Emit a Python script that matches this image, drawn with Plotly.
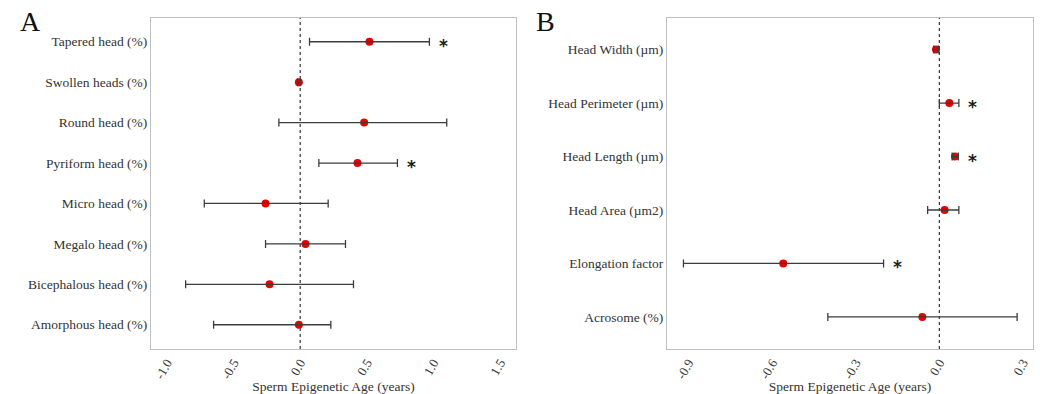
import plotly.graph_objects as go

# Panel A data
a_labels = ["Tapered head (%)", "Swollen heads (%)", "Round head (%)", "Pyriform head (%)",
            "Micro head (%)", "Megalo head (%)", "Bicephalous head (%)", "Amorphous head (%)"]
a_est = [0.52, -0.01, 0.48, 0.43, -0.26, 0.04, -0.23, -0.01]
a_low = [0.07, -0.02, -0.16, 0.14, -0.72, -0.26, -0.86, -0.65]
a_high = [0.97, 0.0, 1.10, 0.73, 0.21, 0.34, 0.40, 0.23]
a_sig = [True, False, False, True, False, False, False, False]
a_ticks = [-1.0, -0.5, 0.0, 0.5, 1.0, 1.5]

# Panel B data
b_labels = ["Head Width (µm)", "Head Perimeter (µm)", "Head Length (µm)", "Head Area (µm2)",
            "Elongation factor", "Acrosome (%)"]
b_est = [-0.012, 0.036, 0.056, 0.019, -0.56, -0.061]
b_low = [-0.020, 0.0, 0.046, -0.042, -0.918, -0.40]
b_high = [-0.003, 0.070, 0.068, 0.070, -0.20, 0.279]
b_sig = [False, True, True, False, True, False]
b_ticks = [-0.9, -0.6, -0.3, 0.0, 0.3]

FONT = "Liberation Serif"
TXT = "#333333"
W, H = 1040, 394

fig = go.Figure()


def add_panel(labels, est, low, high, sig, xaxis, yaxis):
    n = len(labels)
    ypos = list(range(n, 0, -1))
    fig.add_trace(go.Scatter(
        x=est, y=ypos, mode="markers",
        marker=dict(color="#e60000", size=8, line=dict(width=0)),
        xaxis=xaxis, yaxis=yaxis, showlegend=False, hoverinfo="x+y"))
    fig.add_trace(go.Scatter(
        x=est, y=ypos, mode="markers",
        marker=dict(color="rgba(0,0,0,0)", size=1),
        error_x=dict(type="data", symmetric=False,
                     array=[h - e for h, e in zip(high, est)],
                     arrayminus=[e - l for e, l in zip(est, low)],
                     color="#3c3c3c", thickness=1.3, width=4),
        xaxis=xaxis, yaxis=yaxis, showlegend=False, hoverinfo="skip"))
    for y, h, s in zip(ypos, high, sig):
        if s:
            fig.add_annotation(x=h, y=y, text="<b>*</b>", showarrow=False, xshift=14, yshift=-4,
                               font=dict(family="DejaVu Sans", size=17, color="#1a1a1a"),
                               xref=xaxis, yref=yaxis)
    return ypos


ya = add_panel(a_labels, a_est, a_low, a_high, a_sig, "x", "y")
yb = add_panel(b_labels, b_est, b_low, b_high, b_sig, "x2", "y2")

ydom = [1 - 349 / H, 1 - 17.5 / H]
common_x = dict(showgrid=False, zeroline=False, showline=True, mirror=True,
                linecolor="#bfbfbf", linewidth=1, ticks="", tickangle=-60,
                tickfont=dict(family=FONT, size=13, color=TXT),
                title=dict(text="Sperm Epigenetic Age (years)", standoff=4,
                           font=dict(family=FONT, size=13.5, color=TXT)))
common_y = dict(showgrid=False, zeroline=False, showline=True, mirror=True,
                linecolor="#bfbfbf", linewidth=1, ticks="", ticklen=0,
                tickfont=dict(family=FONT, size=13.5, color=TXT), domain=ydom)

fig.update_layout(
    width=W, height=H, margin=dict(l=0, r=0, t=0, b=0),
    paper_bgcolor="white", plot_bgcolor="white",
    xaxis=dict(common_x, domain=[151 / W, 516 / W], range=[-1.12, 1.62],
               tickvals=a_ticks, ticktext=[f"{v:.1f}" for v in a_ticks]),
    yaxis=dict(common_y, anchor="x", range=[0.4, len(a_labels) + 0.6],
               tickvals=ya, ticktext=a_labels),
    xaxis2=dict(common_x, domain=[667 / W, 1033 / W], range=[-0.977, 0.336],
                tickvals=b_ticks, ticktext=[f"{v:.1f}" for v in b_ticks], anchor="y2"),
    yaxis2=dict(common_y, anchor="x2", range=[0.4, len(b_labels) + 0.6],
                tickvals=yb, ticktext=b_labels),
)

# dashed zero lines
for xr, yr in [("x", "y domain"), ("x2", "y2 domain")]:
    fig.add_shape(type="line", x0=0, x1=0, y0=0, y1=1, xref=xr, yref=yr,
                  line=dict(color="#333333", width=1.2, dash="3px,3px"), layer="below")

# panel letters
fig.add_annotation(x=18 / W, y=1 - 4 / H, xref="paper", yref="paper", text="A",
                   showarrow=False, xanchor="left", yanchor="top",
                   font=dict(family=FONT, size=28, color="#111111"))
fig.add_annotation(x=534 / W, y=1 - 4 / H, xref="paper", yref="paper", text="B",
                   showarrow=False, xanchor="left", yanchor="top",
                   font=dict(family=FONT, size=28, color="#111111"))

fig.write_html("out.html")
